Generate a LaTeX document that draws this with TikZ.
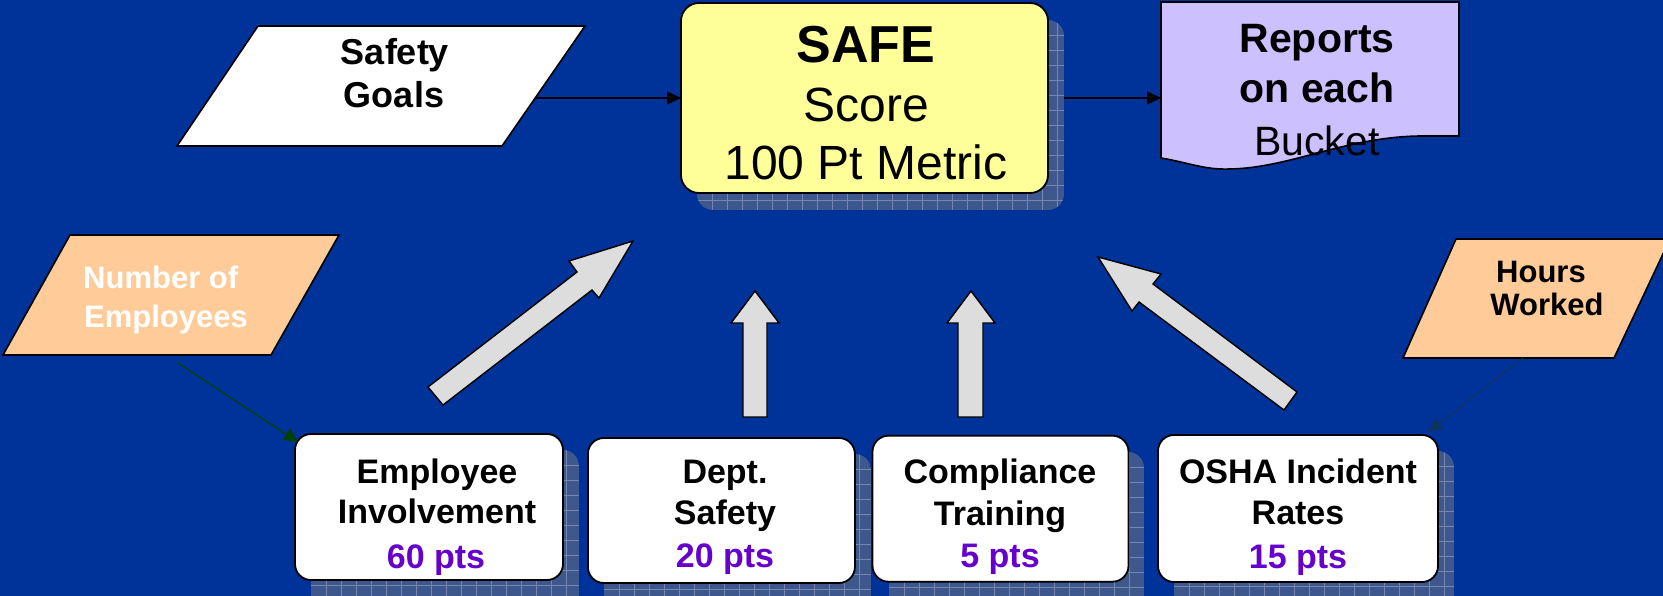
\documentclass[tikz,border=0pt]{standalone}
\usepackage{fontspec}
\setmainfont{Liberation Sans}
\usetikzlibrary{arrows.meta}

\definecolor{bg}{RGB}{0,51,153}
\definecolor{safefill}{RGB}{255,255,153}
\definecolor{repfill}{RGB}{204,192,255}
\definecolor{peach}{RGB}{255,204,153}
\definecolor{ptscol}{RGB}{102,0,204}
\definecolor{blockgray}{RGB}{221,221,221}
\definecolor{shadowfill}{RGB}{62,88,142}
\definecolor{shadowgrid}{RGB}{118,136,178}
\definecolor{empline}{RGB}{0,64,0}
\definecolor{hrsline}{RGB}{12,52,96}

% gridded drop shadow behind a rounded box
\newcommand\gridshadow[4]{%
  \begin{scope}
    \clip[rounded corners=16pt] (#1,#2) rectangle (#3,#4);
    \fill[shadowfill] (#1,#2) rectangle (#3,#4);
    \foreach \k in {1,...,26}
      \draw[shadowgrid,line width=0.7pt] ({#1+\k*15},#2) -- ({#1+\k*15},#4);
    \foreach \k in {1,...,14}
      \draw[shadowgrid,line width=0.7pt] (#1,{#2+\k*15}) -- (#3,{#2+\k*15});
  \end{scope}}

\tikzset{
  scorebox/.style={draw=black, line width=1.8pt, fill=white, rounded corners=16pt,
    inner sep=0pt, outer sep=0pt},
  blockarrow/.style={draw=black, line width=1.4pt, fill=blockgray, line join=miter},
  flowshape/.style={draw=black, line width=1.6pt, line join=miter},
  conn/.style={line width=1.3pt, -{Triangle[length=14pt,width=13pt]}},
  lbl/.style={inner sep=0pt, anchor=base},
  boldlbl/.style={lbl, font={\fontsize{34pt}{40pt}\selectfont\bfseries}},
  ptslbl/.style={boldlbl, text=ptscol},
}

\begin{document}
\begin{tikzpicture}[x=1pt, y=-1pt]
  \useasboundingbox (0,0) rectangle (1663,596);
  \fill[bg] (0,0) rectangle (1663,596);

  \begin{scope}
  \clip (0,0) rectangle (1663,596);

  % ---------- central score box ----------
  \gridshadow{697}{20}{1064}{210}
  \node[scorebox, fill=safefill, rounded corners=18pt,
        minimum width=367pt, minimum height=190pt] (safe) at (864.5,98) {};
  \node[lbl, font={\fontsize{52pt}{60pt}\selectfont\bfseries}] (safet1) at (866,63) {SAFE};
  \node[lbl, font={\fontsize{48pt}{56pt}\selectfont}] (safet2) at (866,122) {Score};
  \node[lbl, font={\fontsize{48pt}{56pt}\selectfont}] (safet3) at (866,180) {100 Pt Metric};

  % ---------- reports document ----------
  \draw[flowshape, fill=repfill] (1161,2) -- (1459,2) -- (1459,136) -- (1420,136)
     .. controls (1345,137) and (1290,168) .. (1230,169)
     .. controls (1205,170) and (1190,163) .. (1161,158) -- cycle;
  \node[lbl, font={\fontsize{41pt}{48pt}\selectfont\bfseries}] (rep1) at (1317,53) {Reports};
  \node[lbl, font={\fontsize{41pt}{48pt}\selectfont\bfseries}] (rep2) at (1317,103) {on each};
  \node[lbl, font={\fontsize{41pt}{48pt}\selectfont}] (rep3) at (1317,156) {Bucket};

  % ---------- input parallelograms ----------
  \draw[flowshape, fill=white] (258,26) -- (585,26) -- (502,146) -- (177,146) -- cycle;
  \node[lbl, font={\fontsize{36pt}{42pt}\selectfont\bfseries}] (goals1) at (395,65) {Safety};
  \node[lbl, font={\fontsize{36pt}{42pt}\selectfont\bfseries}] (goals2) at (394,108) {Goals};

  \draw[flowshape, fill=peach] (70,235) -- (339,235) -- (271,355) -- (3,355) -- cycle;
  \node[lbl, anchor=base west, text=white, font={\fontsize{31pt}{36pt}\selectfont\bfseries}]
     (emp1) at (83,288) {Number of};
  \node[lbl, anchor=base west, text=white, font={\fontsize{31pt}{36pt}\selectfont\bfseries}]
     (emp2) at (84,327) {Employees};

  \draw[flowshape, fill=peach] (1456,239) -- (1670,239) -- (1614,358) -- (1403,358) -- cycle;
  \node[lbl, font={\fontsize{31pt}{36pt}\selectfont\bfseries}] (hrs1) at (1541,283) {Hours};
  \node[lbl, font={\fontsize{31pt}{36pt}\selectfont\bfseries}] (hrs2) at (1547,315) {Worked};

  % ---------- bucket boxes ----------
  \gridshadow{311}{450}{579}{610}
  \gridshadow{604}{454}{871}{610}
  \gridshadow{889}{452}{1144}{610}
  \gridshadow{1174}{451}{1454}{610}

  \node[scorebox, minimum width=268pt, minimum height=146pt] (b1) at (429,507) {};
  \node[scorebox, minimum width=267pt, minimum height=145pt] (b2) at (721.4,510.5) {};
  \node[scorebox, minimum width=256pt, minimum height=146pt] (b3) at (1000.5,508.7) {};
  \node[scorebox, minimum width=280pt, minimum height=147pt] (b4) at (1298,508.5) {};

  \node[boldlbl] (b1t1) at (437,483) {Employee};
  \node[boldlbl] (b1t2) at (437,523) {Involvement};
  \node[ptslbl]  (b1t3) at (436,568) {60 pts};

  \node[boldlbl] (b2t1) at (725,483) {Dept.};
  \node[boldlbl] (b2t2) at (725,524) {Safety};
  \node[ptslbl]  (b2t3) at (725,567) {20 pts};

  \node[boldlbl] (b3t1) at (1000,483) {Compliance};
  \node[boldlbl] (b3t2) at (1000,525) {Training};
  \node[ptslbl]  (b3t3) at (1000,567) {5 pts};

  \node[boldlbl] (b4t1) at (1298,483) {OSHA Incident};
  \node[boldlbl] (b4t2) at (1298,524) {Rates};
  \node[ptslbl]  (b4t3) at (1298,568) {15 pts};

  % ---------- block arrows into the score ----------
  \draw[blockarrow] (428,387) -- (577,272) -- (569,261) -- (633,241) -- (599,298)
                    -- (592,290) -- (443,405) -- cycle;
  \draw[blockarrow] (743,417) -- (743,323) -- (731,323) -- (755,291) -- (779,323)
                    -- (767,323) -- (767,417) -- cycle;
  \draw[blockarrow] (958,417) -- (958,323) -- (947,323) -- (971,291) -- (995,323)
                    -- (983,323) -- (983,417) -- cycle;
  \draw[blockarrow] (1297,392) -- (1153,284) -- (1161,274) -- (1098,257) -- (1132,311)
                    -- (1139,302) -- (1284,410) -- cycle;

  % ---------- connectors ----------
  \coordinate (goalsout) at (536,98);
  \coordinate (safeout) at (1064,98);
  \coordinate (repin) at (1161,98);
  \coordinate (empout) at (178,363);
  \coordinate (empin) at (298,442);
  \coordinate (hrsout) at (1523,358);
  \coordinate (hrsin) at (1428,432);

  \draw[conn] (goalsout) -- (safe.west);
  \draw[conn] (safeout) -- (repin);
  \draw[conn, empline, line width=1.2pt] (empout) -- (empin);
  \draw[conn, hrsline, line width=1.2pt] (hrsout) -- (hrsin);
  \end{scope}
\end{tikzpicture}
\end{document}
